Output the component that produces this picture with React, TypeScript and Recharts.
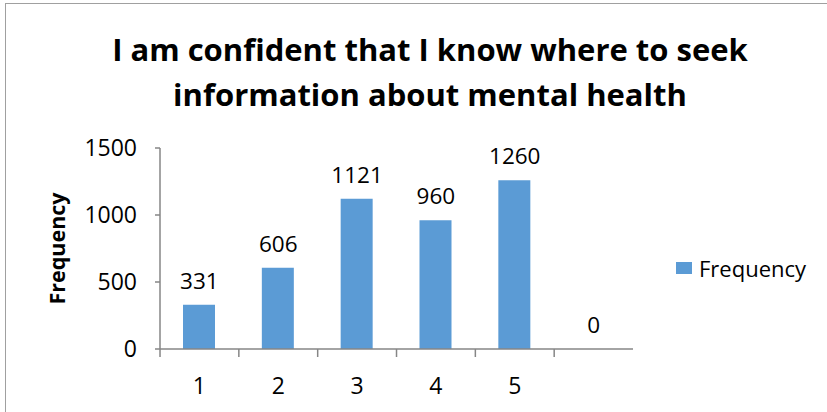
import React from 'react';
import { ComposedChart, Bar, Line, XAxis, YAxis, LabelList } from 'recharts';

const categories = ['1', '2', '3', '4', '5', ''];
const frequency = [331, 606, 1121, 960, 1260, 0];
const yTicks = [0, 500, 1000, 1500];

const data = categories.map((c, i) => ({ name: c, Frequency: frequency[i] }));

const FONT = '"Open Sans", sans-serif';
const AXIS = '#868686';
const BAR = '#5B9BD5';

// value label above each category, zero included
const ValueLabel = (props: any) => {
  const { x, y, value } = props;
  return (
    <text x={x} y={y - 16} textAnchor="middle" fill="#000" fontFamily={FONT} fontSize={22.5}>
      {value}
    </text>
  );
};

export default function App() {
  return (
    <div style={{ position: 'absolute', left: 0, top: 0, width: 827, height: 412, background: '#fff', overflow: 'hidden' }}>
      <div style={{ position: 'absolute', left: 5, top: 3, width: 900, height: 500, border: '1.5px solid #a0a0a0', boxSizing: 'border-box' }} />
      <div
        style={{
          position: 'absolute',
          left: 0,
          top: 27,
          width: 860,
          textAlign: 'center',
          fontFamily: FONT,
          fontWeight: 700,
          fontSize: 31,
          lineHeight: '45px',
          color: '#000',
        }}
      >
        I am confident that I know where to seek
        <br />
        information about mental health
      </div>
      <ComposedChart
        width={827}
        height={412}
        data={data}
        margin={{ top: 148, right: 194, bottom: 23, left: 100 }}
        style={{ position: 'absolute', left: 0, top: 0 }}
      >
        <XAxis
          dataKey="name"
          height={40}
          stroke={AXIS}
          strokeWidth={1.5}
          tickSize={8}
          interval={0}
          tick={{ fill: '#000', fontFamily: FONT, fontSize: 23, dy: 19 }}
          tickLine={{ stroke: AXIS, strokeWidth: 1.5, transform: 'translate(-39.4, 0)' }}
        />
        <YAxis
          domain={[0, 1500]}
          ticks={yTicks}
          width={60}
          stroke={AXIS}
          strokeWidth={1.5}
          tickSize={5}
          tickMargin={18}
          tick={{ fill: '#000', fontFamily: FONT, fontSize: 23 }}
          label={{
            value: 'Frequency',
            angle: -90,
            position: 'insideLeft',
            dx: -48,
            style: { fontFamily: FONT, fontWeight: 700, fontSize: 21.5, fill: '#000', textAnchor: 'middle' },
          }}
        />
        <Bar dataKey="Frequency" fill={BAR} barSize={32} isAnimationActive={false} />
        <Line
          dataKey="Frequency"
          stroke="none"
          dot={false}
          activeDot={false}
          legendType="none"
          isAnimationActive={false}
        >
          <LabelList dataKey="Frequency" content={<ValueLabel />} />
        </Line>
      </ComposedChart>
      <div
        style={{
          position: 'absolute',
          left: 676,
          top: 253,
          display: 'flex',
          alignItems: 'center',
          fontFamily: FONT,
          fontSize: 22,
          color: '#000',
        }}
      >
        <span style={{ width: 16, height: 12, background: BAR, display: 'inline-block', marginRight: 7 }} />
        Frequency
      </div>
    </div>
  );
}
